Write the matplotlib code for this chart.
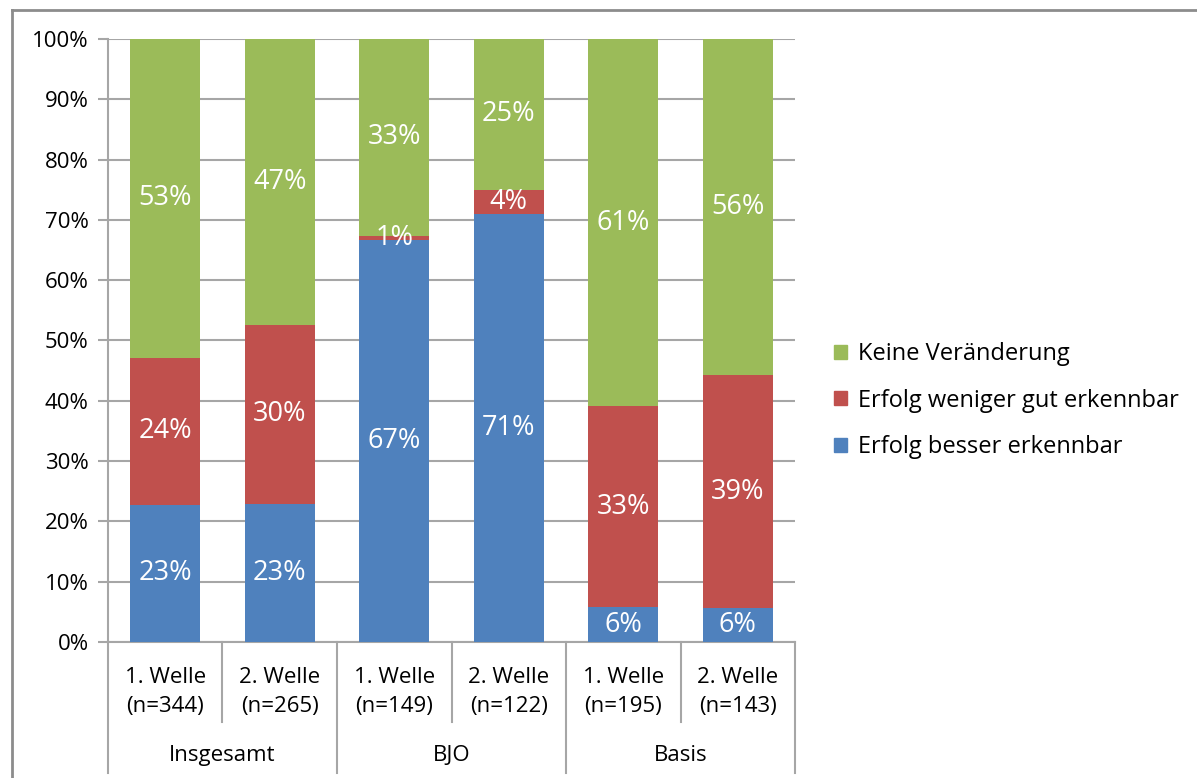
import matplotlib.pyplot as plt
from matplotlib.patches import Patch

waves = ["1. Welle\n(n=344)", "2. Welle\n(n=265)", "1. Welle\n(n=149)",
         "2. Welle\n(n=122)", "1. Welle\n(n=195)", "2. Welle\n(n=143)"]
groups = ["Insgesamt", "BJO", "Basis"]
besser = [22.8, 22.9, 66.6, 71.0, 5.8, 5.6]
weniger = [24.3, 29.7, 0.8, 4.0, 33.3, 38.7]
keine = [52.9, 47.4, 32.6, 25.0, 60.9, 55.7]

series = [
    ("Erfolg besser erkennbar", besser, "#4F81BD"),
    ("Erfolg weniger gut erkennbar", weniger, "#C0504D"),
    ("Keine Veränderung", keine, "#9BBB59"),
]

plt.rcParams["font.family"] = ["Open Sans", "DejaVu Sans"]
fig = plt.figure(figsize=(11.97, 7.78), dpi=100)
ax = fig.add_axes([0.0902, 0.1748, 0.5740, 0.7751])

grid_c = "#A6A6A6"
x = list(range(len(waves)))
bottom = [0.0] * len(waves)
for name, vals, color in series:
    ax.bar(x, vals, width=0.61, bottom=bottom, color=color, zorder=3)
    for i, v in enumerate(vals):
        ax.text(i, bottom[i] + v / 2, f"{round(v)}%", ha="center", va="center",
                color="white", fontsize=19.5, zorder=4)
    bottom = [b + v for b, v in zip(bottom, vals)]

ax.set_xlim(-0.5, len(waves) - 0.5)
ax.set_ylim(0, 100)
ax.set_yticks(range(0, 101, 10))
ax.set_yticklabels([f"{t}%" for t in range(0, 101, 10)], fontsize=16)
ax.yaxis.grid(True, color=grid_c, linewidth=1.5, zorder=0)
ax.tick_params(axis="y", length=7, width=1.5, color=grid_c, pad=7)
ax.set_xticks([])
for s in ["top", "right"]:
    ax.spines[s].set_visible(False)
for s in ["left", "bottom"]:
    ax.spines[s].set_color(grid_c)
    ax.spines[s].set_linewidth(1.5)

# two-level category axis
tr = ax.get_xaxis_transform()
for i, lab in enumerate(waves):
    ax.text(i, -0.083, lab, transform=tr, ha="center", va="center",
            fontsize=16, linespacing=1.55)
for i in range(len(waves) + 1):
    xb = i - 0.5
    low = -0.217 if i % 2 == 0 else -0.133
    ax.plot([xb, xb], [0, low], transform=tr, color=grid_c, linewidth=1.5,
            clip_on=False)
for g, name in enumerate(groups):
    ax.text(2 * g + 0.5, -0.188, name, transform=tr, ha="center", va="center",
            fontsize=16)

handles = [Patch(color=c, label=n) for n, _, c in reversed(series)]
fig.legend(handles=handles, loc="center left", bbox_to_anchor=(0.679, 0.485),
           frameon=False, fontsize=17, handlelength=0.55, handleheight=0.55,
           handletextpad=0.45, labelspacing=0.95)

# outer chart frame
fig.add_artist(plt.Line2D([0.010, 0.010], [0.0, 0.987], color="#8C8C8C",
                          linewidth=2, transform=fig.transFigure))
fig.add_artist(plt.Line2D([0.010, 1.0], [0.987, 0.987], color="#8C8C8C",
                          linewidth=2, transform=fig.transFigure))

fig.savefig("out.png", dpi=100)
